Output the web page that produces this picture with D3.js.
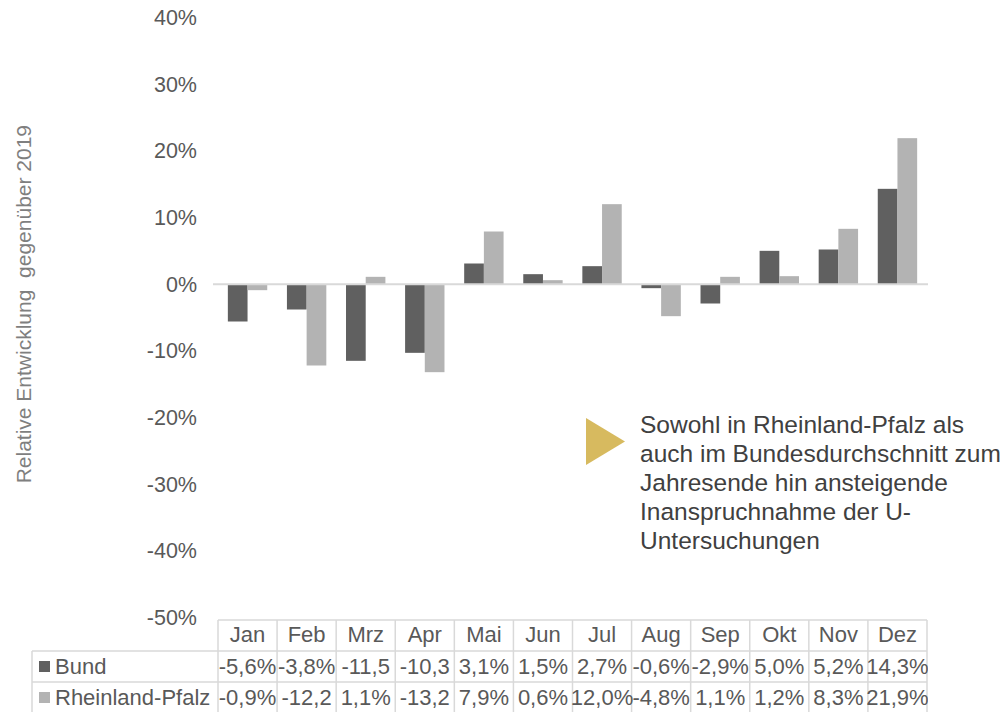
<!DOCTYPE html>
<html>
<head>
<meta charset="utf-8">
<script src="https://cdn.jsdelivr.net/npm/d3@7"></script>
<style>
  html, body { margin: 0; padding: 0; background: #fff; }
  svg { display: block; font-family: Arial, "Liberation Sans", sans-serif; }
</style>
</head>
<body>
<svg id="chart" width="1004" height="712"></svg>
<script>
// Monthly change in U-Untersuchungen relative to 2019
const months = ["Jan", "Feb", "Mrz", "Apr", "Mai", "Jun", "Jul", "Aug", "Sep", "Okt", "Nov", "Dez"];
const seriesNames = ["Bund", "Rheinland-Pfalz"];
const bund = [-5.6, -3.8, -11.5, -10.3, 3.1, 1.5, 2.7, -0.6, -2.9, 5.0, 5.2, 14.3];
const rlp = [-0.9, -12.2, 1.1, -13.2, 7.9, 0.6, 12.0, -4.8, 1.1, 1.2, 8.3, 21.9];
const yTicks = [40, 30, 20, 10, 0, -10, -20, -30, -40, -50];
const axisTitle = "Relative Entwicklung  gegenüber 2019";
const noteLines = [
  "Sowohl in Rheinland-Pfalz als",
  "auch im Bundesdurchschnitt zum",
  "Jahresende hin ansteigende",
  "Inanspruchnahme der U-",
  "Untersuchungen"
];

const seriesValues = [bund, rlp];
const colors = { "Bund": "#606060", "Rheinland-Pfalz": "#b3b3b3" };
const textColor = "#595959";
const gridColor = "#d9d9d9";
const tableFont = "22px";

const svg = d3.select("#chart");

const plotLeft = 218, plotRight = 927;
const y = d3.scaleLinear().domain([-50, 40]).range([617.5, 17.5]);
const x0 = d3.scaleBand().domain(months).range([plotLeft, plotRight]);
const x1 = d3.scaleBand().domain(seriesNames).range([0, x0.bandwidth()]).paddingOuter(0.5);

// value axis (labels only)
const yAxis = d3.axisLeft(y)
  .tickValues(yTicks)
  .tickSize(0)
  .tickPadding(21)
  .tickFormat(d => d + "%");
const yG = svg.append("g").attr("transform", `translate(${plotLeft},0)`).call(yAxis);
yG.select(".domain").remove();
yG.selectAll("text")
  .attr("fill", textColor)
  .style("font-size", "21.5px")
  .style("font-family", "Arial, 'Liberation Sans', sans-serif");

// axis title
svg.append("text")
  .attr("transform", `translate(31,${y(-3)}) rotate(-90)`)
  .attr("text-anchor", "middle")
  .attr("fill", "#7f7f7f")
  .style("font-size", "21px")
  .style("white-space", "pre")
  .attr("xml:space", "preserve")
  .text(axisTitle);

// bars
const rows = months.map((m, i) => ({ month: m, values: seriesNames.map((s, k) => ({ key: s, value: seriesValues[k][i] })) }));
const groups = svg.append("g").selectAll("g")
  .data(rows).join("g")
  .attr("transform", d => `translate(${x0(d.month)},0)`);
groups.selectAll("rect")
  .data(d => d.values).join("rect")
  .attr("x", d => x1(d.key))
  .attr("width", x1.bandwidth())
  .attr("y", d => y(Math.max(0, d.value)))
  .attr("height", d => Math.abs(y(d.value) - y(0)))
  .attr("fill", d => colors[d.key]);

// zero line
svg.append("line")
  .attr("x1", plotLeft - 5).attr("x2", plotRight + 1)
  .attr("y1", y(0)).attr("y2", y(0))
  .attr("stroke", gridColor).attr("stroke-width", 2);

// data table below the plot
const tableTop = 620, rowH = 31, legendLeft = 32;
const table = svg.append("g");
const clip = svg.append("defs").append("clipPath").attr("id", "tableClip");
clip.append("rect").attr("x", 0).attr("y", tableTop - 2).attr("width", plotRight + 1).attr("height", 712 - tableTop + 2);
table.attr("clip-path", "url(#tableClip)");

const bc = "#d9d9d9";
// horizontal rules
table.append("line").attr("x1", plotLeft).attr("x2", plotRight).attr("y1", tableTop).attr("y2", tableTop)
  .attr("stroke", bc).attr("stroke-width", 1.5);
[1, 2, 3].forEach(r => {
  table.append("line").attr("x1", legendLeft).attr("x2", plotRight)
    .attr("y1", tableTop + r * rowH).attr("y2", tableTop + r * rowH)
    .attr("stroke", bc).attr("stroke-width", 1.5);
});
// vertical rules
months.concat(["end"]).forEach(m => {
  const xx = m === "end" ? plotRight : x0(m);
  table.append("line").attr("x1", xx).attr("x2", xx)
    .attr("y1", tableTop).attr("y2", tableTop + 3 * rowH)
    .attr("stroke", bc).attr("stroke-width", 1.5);
});
table.append("line").attr("x1", legendLeft).attr("x2", legendLeft)
  .attr("y1", tableTop + rowH).attr("y2", tableTop + 3 * rowH)
  .attr("stroke", bc).attr("stroke-width", 1.5);

// month headers
table.selectAll("text.head").data(months).join("text")
  .attr("class", "head")
  .attr("x", d => x0(d) + x0.bandwidth() / 2)
  .attr("y", tableTop + 22)
  .attr("text-anchor", "middle")
  .attr("fill", textColor)
  .style("font-size", tableFont)
  .text(d => d);

// series rows
seriesNames.forEach((s, k) => {
  const ry = tableTop + (k + 1) * rowH;
  table.append("rect").attr("x", 39).attr("y", ry + 10).attr("width", 11).attr("height", 11).attr("fill", colors[s]);
  table.append("text").attr("x", 55).attr("y", ry + 23)
    .attr("fill", textColor).style("font-size", tableFont).text(s);
  seriesValues[k].forEach((v, i) => {
    const t = table.append("text")
      .attr("x", x0(months[i]) + x0.bandwidth() / 2)
      .attr("y", ry + 23)
      .attr("text-anchor", "middle")
      .attr("fill", textColor)
      .style("font-size", tableFont)
      .text(v.toFixed(1).replace(".", ",") + "%");
    // clearly too wide for its cell: the percent sign is dropped
    if (t.node().getComputedTextLength() > x0.bandwidth() + 5) {
      t.text(v.toFixed(1).replace(".", ","));
    }
  });
});

// note with marker
svg.append("path")
  .attr("d", "M586,418 L586,465 L625,441.5 Z")
  .attr("fill", "#d7ba5f");
svg.append("g").selectAll("text").data(noteLines).join("text")
  .attr("x", 640)
  .attr("y", (d, i) => 433 + i * 29)
  .attr("fill", "#404040")
  .style("font-size", "24.5px")
  .text(d => d);
</script>
</body>
</html>
